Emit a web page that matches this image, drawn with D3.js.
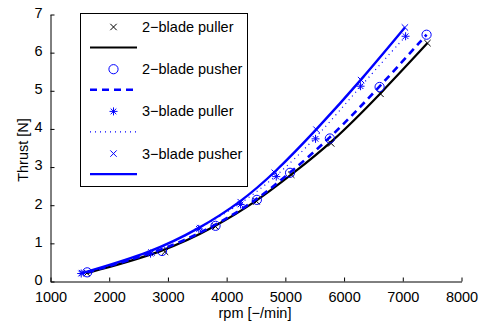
<!DOCTYPE html>
<html>
<head>
<meta charset="utf-8">
<title>Thrust vs rpm</title>
<script src="https://d3js.org/d3.v7.min.js"></script>
<style>
  body { margin: 0; background: #fff; }
  text { font-family: "Liberation Sans", Arial, sans-serif; }
</style>
</head>
<body>
<script>
// values
var rpm2Puller = [1620, 2950, 3810, 4510, 5100, 5780, 6620, 7420];
var thrust2Puller = [0.22, 0.78, 1.44, 2.10, 2.80, 3.62, 4.92, 6.25];
var rpm2Pusher = [1625, 2900, 3811, 4515, 5080, 5758, 6605, 7405];
var thrust2Pusher = [0.24, 0.80, 1.46, 2.14, 2.85, 3.75, 5.10, 6.47];
var rpm3Puller = [1523, 2704, 3526, 4237, 4845, 5514, 6281, 7048];
var thrust3Puller = [0.21, 0.73, 1.38, 2.02, 2.75, 3.74, 5.12, 6.43];
var rpm3Pusher = [1540, 2720, 3550, 4240, 4820, 5530, 6290, 7036];
var thrust3Pusher = [0.22, 0.76, 1.40, 2.08, 2.85, 3.98, 5.28, 6.66];
var xTicks = [1000, 2000, 3000, 4000, 5000, 6000, 7000, 8000];
var yTicks = [0, 1, 2, 3, 4, 5, 6, 7];
var labels = ["2\u2212blade puller", "2\u2212blade pusher", "3\u2212blade puller", "3\u2212blade pusher"];

var width = 484, height = 322;
var fs = "14.5px";
var x = d3.scaleLinear().domain([1000, 8000]).range([50.5, 461.5]);
var y = d3.scaleLinear().domain([0, 7]).range([281.5, 14.5]);

var svg = d3.select("body").append("svg")
    .attr("width", width)
    .attr("height", height);

var series = [
  {rpm: rpm2Puller, t: thrust2Puller, color: "#000", marker: "x", dash: null, lw: 2.2},
  {rpm: rpm2Pusher, t: thrust2Pusher, color: "#0000ff", marker: "o", dash: "7,5", lw: 2.6},
  {rpm: rpm3Puller, t: thrust3Puller, color: "#0000ff", marker: "*", dash: "1,4", lw: 1.2},
  {rpm: rpm3Pusher, t: thrust3Pusher, color: "#0000ff", marker: "x", dash: null, lw: 2.4}
];

// axes (MATLAB style, ticks inside, box off)
var xAxis = svg.append("g")
    .attr("transform", "translate(0," + y(0) + ")")
    .call(d3.axisBottom(x).tickValues(xTicks).tickFormat(d3.format("d"))
      .tickSizeInner(-4).tickSizeOuter(0).tickPadding(10.5));
var yAxis = svg.append("g")
    .attr("transform", "translate(" + x(1000) + ",0)")
    .call(d3.axisLeft(y).tickValues(yTicks).tickFormat(d3.format("d"))
      .tickSizeInner(-4).tickSizeOuter(0).tickPadding(8));
[xAxis, yAxis].forEach(function(a) {
  a.selectAll("text").style("font-size", fs).attr("fill", "#000");
  a.selectAll("line, path").attr("stroke", "#000");
});
yAxis.selectAll(".tick text").attr("dy", "0.2em");

svg.append("text")
    .attr("x", 255).attr("y", 318)
    .attr("text-anchor", "middle")
    .style("font-size", fs)
    .text("rpm [\u2212/min]");
svg.append("text")
    .attr("transform", "translate(28,150) rotate(-90)")
    .attr("text-anchor", "middle")
    .style("font-size", fs)
    .text("Thrust [N]");

function drawMarker(g, kind, cx, cy, color) {
  var s = 3.2;
  if (kind === "x") {
    g.append("path")
      .attr("d", "M" + (cx - s) + "," + (cy - s) + "L" + (cx + s) + "," + (cy + s) +
                 "M" + (cx - s) + "," + (cy + s) + "L" + (cx + s) + "," + (cy - s))
      .attr("stroke", color).attr("stroke-width", 1).attr("fill", "none");
  } else if (kind === "o") {
    g.append("circle").attr("cx", cx).attr("cy", cy).attr("r", 4.6)
      .attr("stroke", color).attr("stroke-width", 1).attr("fill", "none");
  } else {
    var r = 4;
    var d = "M" + (cx - r) + "," + cy + "L" + (cx + r) + "," + cy +
            "M" + cx + "," + (cy - r) + "L" + cx + "," + (cy + r) +
            "M" + (cx - r * 0.7) + "," + (cy - r * 0.7) + "L" + (cx + r * 0.7) + "," + (cy + r * 0.7) +
            "M" + (cx - r * 0.7) + "," + (cy + r * 0.7) + "L" + (cx + r * 0.7) + "," + (cy - r * 0.7);
    g.append("path").attr("d", d).attr("stroke", color).attr("stroke-width", 1).attr("fill", "none");
  }
}

var line = d3.line()
    .x(function(d) { return x(d[0]); })
    .y(function(d) { return y(d[1]); })
    .curve(d3.curveBasis);

var plot = svg.append("g");
series.forEach(function(s) {
  var pts = s.rpm.map(function(r, i) { return [r, s.t[i]]; });
  plot.append("path")
      .datum(pts)
      .attr("d", line)
      .attr("fill", "none")
      .attr("stroke", s.color)
      .attr("stroke-width", s.lw)
      .attr("stroke-dasharray", s.dash);
  pts.forEach(function(p) { drawMarker(plot, s.marker, x(p[0]), y(p[1]), s.color); });
});

// legend
var leg = svg.append("g");
leg.append("rect")
    .attr("x", 80.5).attr("y", 13.5).attr("width", 167).attr("height", 173)
    .attr("fill", "#fff").attr("stroke", "#000").attr("stroke-width", 1);
series.forEach(function(s, i) {
  var ty = 27 + i * 42.2;
  drawMarker(leg, s.marker, 113.5, ty, s.color);
  leg.append("text")
      .attr("x", 142).attr("y", ty + 5)
      .style("font-size", fs)
      .text(labels[i]);
  leg.append("line")
      .attr("x1", 90).attr("x2", 137)
      .attr("y1", ty + 20.5).attr("y2", ty + 20.5)
      .attr("stroke", s.color)
      .attr("stroke-width", s.dash === "1,4" ? 1.2 : s.lw)
      .attr("stroke-dasharray", s.dash);
});
</script>
</body>
</html>
